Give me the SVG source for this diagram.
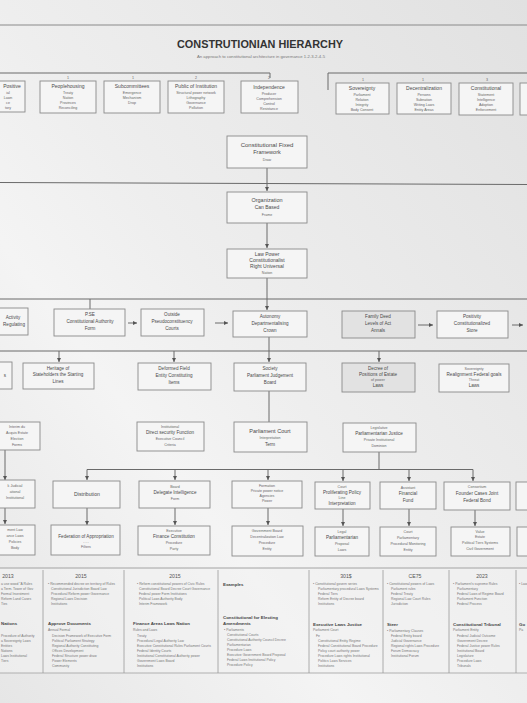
<svg xmlns="http://www.w3.org/2000/svg" width="527" height="703" viewBox="0 0 527 703">
<defs>
<linearGradient id="bg" x1="0" y1="1" x2="1" y2="0">
<stop offset="0" stop-color="#e6e6e6"/>
<stop offset="0.33" stop-color="#f4f4f4"/>
<stop offset="0.5" stop-color="#eeeeee"/>
<stop offset="1" stop-color="#e1e1e1"/>
</linearGradient>
<marker id="ah" viewBox="0 0 6 6" refX="6" refY="3" markerWidth="4" markerHeight="4" orient="auto"><path d="M0,0 L6,3 L0,6 z" fill="#555"/></marker>
<style>
.box{fill:#f5f5f5;stroke:#8a8a8a;stroke-width:0.9}
.sh{fill:#e2e2e2}
.t{font-family:"Liberation Sans",Arial,sans-serif;fill:#4a4a4a;text-anchor:middle}
.h{font-size:5px}
.s{font-size:3.6px;fill:#666}
.m{font-size:4.6px}
.ln{stroke:#6a6a6a;stroke-width:1;fill:none}
.ar{stroke:#6a6a6a;stroke-width:1;fill:none;marker-end:url(#ah)}
.pl{font-family:"Liberation Sans",Arial,sans-serif;font-size:3.4px;fill:#777}
.ph{font-family:"Liberation Sans",Arial,sans-serif;font-size:5.2px;fill:#555;text-anchor:middle}
.pb{font-family:"Liberation Sans",Arial,sans-serif;font-size:4.4px;fill:#444;font-weight:bold}
.div{stroke:#9a9a9a;stroke-width:0.8}
</style>
</defs>
<rect width="527" height="703" fill="url(#bg)"/>
<line x1="0" y1="25" x2="527" y2="25" stroke="#8a8a8a" stroke-width="1"/>
<text x="260" y="48" font-family="Liberation Sans,Arial,sans-serif" font-size="10.5" font-weight="bold" fill="#333" text-anchor="middle" textLength="166" lengthAdjust="spacingAndGlyphs">CONSTRUTIONIAN HIERARCHY</text>
<text x="261" y="58" font-family="Liberation Sans,Arial,sans-serif" font-size="3.6" fill="#777" text-anchor="middle" textLength="128" lengthAdjust="spacingAndGlyphs">An approach to constitutional architecture in governance 1-2-3-2-4-5</text>

<g id="connectors">
<path class="ln" d="M0,73 H270 V78"/>
<path class="ln" d="M328,90 V73 H527"/>
<line class="ln" x1="0" y1="182.5" x2="527" y2="184.5"/>
<path class="ar" d="M267,168 V191"/>
<path class="ar" d="M267,223 V248"/>
<path class="ar" d="M267,278 V310"/>
<line class="ln" x1="0" y1="299" x2="527" y2="299"/>
<path class="ln" d="M90,299 V309"/>
<path class="ar" d="M128,323 H137"/>
<path class="ar" d="M215,323 H228"/>
<path class="ar" d="M418,325 H433"/>
<path class="ar" d="M512,325 H523"/>
<line class="ln" x1="0" y1="351" x2="527" y2="351"/>
<path class="ar" d="M59,351 V362"/>
<path class="ar" d="M174,351 V362"/>
<path class="ar" d="M269,337 V362"/>
<path class="ar" d="M379,351 V362"/>
<path class="ln" d="M269,391 V422"/>
<path class="ar" d="M5,450 V480"/>
<path class="ln" d="M379,452 V469.5 M87,469.5 H473"/>
<path class="ar" d="M87,469.5 V480"/>
<path class="ar" d="M175,469.5 V480"/>
<path class="ar" d="M268,469.5 V480"/>
<path class="ar" d="M343,469.5 V481"/>
<path class="ar" d="M409,469.5 V481"/>
<path class="ar" d="M473,469.5 V481"/>
<path class="ar" d="M5,508 V524"/>
<path class="ar" d="M87,508 V525"/>
<path class="ar" d="M175,508 V525"/>
<path class="ar" d="M268,508 V525"/>
<path class="ar" d="M343,509 V526"/>
<path class="ar" d="M409,509 V526"/>
<path class="ar" d="M475,510 V526"/>
</g>

<g class="t">
<text class="s" x="68" y="79">1</text><text class="s" x="133" y="79">1</text><text class="s" x="196" y="79">2</text><text class="s" x="269" y="79">2</text>
<text class="s" x="363" y="81">1</text><text class="s" x="423" y="81">1</text><text class="s" x="487" y="81">3</text>
</g>

<g id="top0"><rect class="box" x="-2" y="81" width="27" height="31"/><text class="t h" x="12" y="88">Positive</text><text class="t s" x="8" y="94">ial</text><text class="t s" x="8" y="99">Lawn</text><text class="t s" x="8" y="104">ce</text><text class="t s" x="8" y="109">tory</text></g>
<g id="top1"><rect class="box" x="40" y="81" width="56" height="32"/><text class="t h" x="68" y="88">Peoplehousing</text><text class="t s" x="68" y="94">Treaty</text><text class="t s" x="68" y="99">Nation</text><text class="t s" x="68" y="104">Provinces</text><text class="t s" x="68" y="109">Reconciling</text></g>
<g id="top2"><rect class="box" x="104" y="81" width="56" height="32"/><text class="t h" x="132" y="88">Subcommittees</text><text class="t s" x="132" y="94">Emergence</text><text class="t s" x="132" y="99">Mechanism</text><text class="t s" x="132" y="104">Drop</text></g>
<g id="top3"><rect class="box" x="168" y="81" width="56" height="32"/><text class="t h" x="196" y="88">Public of Institution</text><text class="t s" x="196" y="94">Structural power network</text><text class="t s" x="196" y="99">Lithography</text><text class="t s" x="196" y="104">Governance</text><text class="t s" x="196" y="109">Pollution</text></g>
<g id="top4"><rect class="box" x="241" y="81" width="57" height="32"/><text class="t h" x="269" y="89">Independence</text><text class="t s" x="269" y="95">Producer</text><text class="t s" x="269" y="100">Comprehension</text><text class="t s" x="269" y="105">Control</text><text class="t s" x="269" y="110">Resistance</text></g>
<g id="top5"><rect class="box" x="336" y="83" width="53" height="31"/><text class="t h" x="362" y="90">Sovereignty</text><text class="t s" x="362" y="96">Parliament</text><text class="t s" x="362" y="101">Relation</text><text class="t s" x="362" y="106">Integrity</text><text class="t s" x="362" y="111">Body Consent</text></g>
<g id="top6"><rect class="box" x="397" y="83" width="54" height="31"/><text class="t h" x="424" y="90">Decentralization</text><text class="t s" x="424" y="96">Persons</text><text class="t s" x="424" y="101">Subnation</text><text class="t s" x="424" y="106">Writing Laws</text><text class="t s" x="424" y="111">Entity Areas</text></g>
<g id="top7"><rect class="box" x="459" y="83" width="54" height="32"/><text class="t h" x="486" y="90">Constitutional</text><text class="t s" x="486" y="96">Statement</text><text class="t s" x="486" y="101">Intelligence</text><text class="t s" x="486" y="106">Adoption</text><text class="t s" x="486" y="111">Enforcement</text></g>
<g id="top8"><rect class="box" x="520" y="83" width="12" height="32"/></g>

<g id="nodeA"><rect class="box" x="227" y="136" width="80" height="32"/><text class="t" font-size="6" x="267" y="147">Constitutional Fixed</text><text class="t" font-size="5.5" x="267" y="154">Framework</text><text class="t s" x="267" y="161">Draw</text></g>
<g id="nodeB"><rect class="box" x="227" y="192" width="80" height="31"/><text class="t" font-size="5.5" x="267" y="202">Organization</text><text class="t h" x="267" y="209">Can Based</text><text class="t s" x="267" y="216">Frame</text></g>
<g id="nodeC"><rect class="box" x="227" y="249" width="80" height="29"/><text class="t h" x="267" y="256">Law Power</text><text class="t h" x="267" y="262">Constitutionalist</text><text class="t h" x="267" y="268">Right Universal</text><text class="t s" x="267" y="274">Nation</text></g>

<g id="r4a"><rect class="box" x="-2" y="308" width="30" height="27"/><text class="t m" x="13" y="319">Activity</text><text class="t m" x="14" y="326">Regulating</text></g>
<g id="r4b"><rect class="box" x="54" y="309" width="71" height="27"/><text class="t m" x="90" y="316">P.SE</text><text class="t m" x="90" y="323">Constitutional Authority</text><text class="t m" x="90" y="330">Form</text></g>
<g id="r4c"><rect class="box" x="141" y="309" width="63" height="27"/><text class="t m" x="172" y="316">Outside</text><text class="t m" x="172" y="323">Pseudoconstituency</text><text class="t m" x="172" y="330">Courts</text></g>
<g id="r4d"><rect class="box" x="233" y="311" width="74" height="26"/><text class="t m" x="270" y="318">Autonomy</text><text class="t m" x="270" y="325">Departmentalising</text><text class="t m" x="270" y="332">Crown</text></g>
<g id="r4e"><rect class="box sh" x="342" y="311" width="73" height="27"/><text class="t m" x="378" y="318">Family Deed</text><text class="t m" x="378" y="325">Levels of Act</text><text class="t m" x="378" y="332">Annals</text></g>
<g id="r4f"><rect class="box" x="437" y="311" width="71" height="27"/><text class="t m" x="472" y="318">Positivity</text><text class="t m" x="472" y="325">Constitutionalized</text><text class="t m" x="472" y="332">Store</text></g>

<g id="r5a"><rect class="box" x="-2" y="362" width="14" height="27"/><text class="t m" x="5" y="377">s</text></g>
<g id="r5b"><rect class="box" x="23" y="363" width="71" height="26"/><text class="t m" x="58" y="370">Heritage of</text><text class="t m" x="58" y="376">Stateholders the Starting</text><text class="t m" x="58" y="383">Lines</text></g>
<g id="r5c"><rect class="box" x="138" y="363" width="73" height="27"/><text class="t m" x="174" y="370">Deformed Field</text><text class="t m" x="174" y="377">Entity Constituting</text><text class="t m" x="174" y="384">Items</text></g>
<g id="r5d"><rect class="box" x="234" y="363" width="72" height="28"/><text class="t m" x="270" y="370">Society</text><text class="t m" x="270" y="377">Parliament Judgement</text><text class="t m" x="270" y="384">Board</text></g>
<g id="r5e"><rect class="box sh" x="342" y="363" width="73" height="29"/><text class="t m" x="378" y="370">Decree of</text><text class="t m" x="378" y="376">Positions of Estate</text><text class="t s" x="378" y="381">of power</text><text class="t m" x="378" y="387">Laws</text></g>
<g id="r5f"><rect class="box" x="439" y="364" width="70" height="28"/><text class="t s" x="474" y="370">Sovereignty</text><text class="t m" x="474" y="376">Realignment Federal goals</text><text class="t s" x="474" y="381">Threat</text><text class="t m" x="474" y="387">Laws</text></g>

<g id="r6a"><rect class="box" x="-2" y="422" width="42" height="28"/><text class="t s" x="17" y="428">Interim du</text><text class="t s" x="17" y="434">Acquis Estate</text><text class="t s" x="17" y="440">Election</text><text class="t s" x="17" y="446">Forms</text></g>
<g id="r6b"><rect class="box" x="137" y="422" width="67" height="29"/><text class="t s" x="170" y="428">Institutional</text><text class="t m" x="170" y="434">Direct security Function</text><text class="t s" x="170" y="440">Executive Council</text><text class="t s" x="170" y="446">Criteria</text></g>
<g id="r6c"><rect class="box" x="234" y="422" width="73" height="30"/><text class="t" font-size="5.5" x="270" y="433">Parliament Court</text><text class="t s" x="270" y="439">Interpretation</text><text class="t m" x="270" y="446">Term</text></g>
<g id="r6d"><rect class="box" x="343" y="423" width="73" height="29"/><text class="t s" x="379" y="429">Legislative</text><text class="t m" x="379" y="435">Parliamentarian Justice</text><text class="t s" x="379" y="441">Private Institutional</text><text class="t s" x="379" y="447">Dominion</text></g>

<g id="r7a"><rect class="box" x="-2" y="480" width="37" height="28"/><text class="t s" x="15" y="487">k Judicial</text><text class="t s" x="15" y="493">ational</text><text class="t s" x="15" y="499">Institutional</text></g>
<g id="r7b"><rect class="box" x="53" y="481" width="67" height="27"/><text class="t" font-size="5.2" x="87" y="496">Distribution</text></g>
<g id="r7c"><rect class="box" x="139" y="481" width="71" height="27"/><text class="t s" x="175" y="488">Board</text><text class="t m" x="175" y="494">Delegate Intelligence</text><text class="t s" x="175" y="500">Form</text></g>
<g id="r7d"><rect class="box" x="232" y="481" width="70" height="27"/><text class="t s" x="267" y="487">Formation</text><text class="t s" x="267" y="492">Private power notice</text><text class="t s" x="267" y="497">Agencies</text><text class="t s" x="267" y="502">Power</text></g>
<g id="r7e"><rect class="box" x="315" y="482" width="55" height="27"/><text class="t s" x="342" y="488">Court</text><text class="t m" x="342" y="494">Proliferating Policy</text><text class="t s" x="342" y="499">Line</text><text class="t m" x="342" y="505">Interpretation</text></g>
<g id="r7f"><rect class="box" x="380" y="482" width="56" height="27"/><text class="t s" x="408" y="489">Assistant</text><text class="t m" x="408" y="495">Financial</text><text class="t m" x="408" y="502">Fund</text></g>
<g id="r7g"><rect class="box" x="444" y="482" width="66" height="28"/><text class="t s" x="477" y="488">Consortium</text><text class="t m" x="477" y="495">Founder Cases Joint</text><text class="t m" x="477" y="502">Federal Bond</text></g>
<g id="r7h"><rect class="box" x="516" y="482" width="14" height="28"/></g>

<g id="r8a"><rect class="box" x="-2" y="525" width="37" height="30"/><text class="t s" x="15" y="531">ment Law</text><text class="t s" x="15" y="537">ance Laws</text><text class="t s" x="15" y="543">Policies</text><text class="t s" x="15" y="549">Body</text></g>
<g id="r8b"><rect class="box" x="51" y="525" width="69" height="30"/><text class="t m" x="86" y="538">Federation of Appropriation</text><text class="t s" x="86" y="543">- - -</text><text class="t s" x="86" y="548">Filters</text></g>
<g id="r8c"><rect class="box" x="138" y="526" width="72" height="29"/><text class="t s" x="174" y="532">Executive</text><text class="t m" x="174" y="538">Finance Constitution</text><text class="t s" x="174" y="544">Procedure</text><text class="t s" x="174" y="550">Party</text></g>
<g id="r8d"><rect class="box" x="232" y="526" width="71" height="30"/><text class="t s" x="267" y="532">Government Board</text><text class="t s" x="267" y="538">Decentralization Law</text><text class="t s" x="267" y="544">Procedure</text><text class="t s" x="267" y="550">Entity</text></g>
<g id="r8e"><rect class="box" x="315" y="527" width="54" height="29"/><text class="t s" x="342" y="533">Legal</text><text class="t m" x="342" y="539">Parliamentarian</text><text class="t s" x="342" y="545">Proposal</text><text class="t s" x="342" y="551">Laws</text></g>
<g id="r8f"><rect class="box" x="380" y="527" width="56" height="29"/><text class="t s" x="408" y="533">Court</text><text class="t s" x="408" y="539">Parliamentary</text><text class="t s" x="408" y="545">Procedural Monitoring</text><text class="t s" x="408" y="551">Entity</text></g>
<g id="r8g"><rect class="box" x="451" y="527" width="59" height="29"/><text class="t s" x="480" y="533">Value</text><text class="t s" x="480" y="538">Estate</text><text class="t s" x="480" y="544">Political Tiers Systems</text><text class="t s" x="480" y="550">Civil Government</text></g>
<g id="r8h"><rect class="box" x="517" y="527" width="14" height="29"/></g>

<g id="panel">
<rect x="0" y="568" width="527" height="105" fill="#f2f2f2" opacity="0.6"/>
<line x1="0" y1="568" x2="527" y2="568" stroke="#9a9a9a" stroke-width="0.9"/>
<line x1="0" y1="673" x2="527" y2="673" stroke="#a8a8a8" stroke-width="0.9"/>
<line class="div" x1="43" y1="570" x2="43" y2="673"/>
<line class="div" x1="124" y1="570" x2="124" y2="673"/>
<line class="div" x1="218" y1="570" x2="218" y2="673"/>
<line class="div" x1="309" y1="570" x2="309" y2="673"/>
<line class="div" x1="383" y1="570" x2="383" y2="673"/>
<line class="div" x1="449" y1="570" x2="449" y2="673"/>
<line class="div" x1="516" y1="570" x2="516" y2="673"/>

<text class="ph" x="8" y="578">2013</text>
<text class="pl" x="1" y="585">a use wood "A Rules</text><text class="pl" x="1" y="590">a Term. Tower of Gov</text><text class="pl" x="1" y="595">Formal Investment</text><text class="pl" x="1" y="600">Reform Land Cases</text><text class="pl" x="1" y="605">Ties</text>
<text class="pb" x="1" y="625">Nations</text>
<text class="pl" x="1" y="637">Procedure of Authority</text><text class="pl" x="1" y="642">a Sovereignty Laws</text><text class="pl" x="1" y="647">Entities</text><text class="pl" x="1" y="652">Nations</text><text class="pl" x="1" y="657">Laws Institutional</text><text class="pl" x="1" y="662">Tiers</text>

<text class="ph" x="81" y="578">2015</text>
<text class="pl" x="48" y="585">• Recommended decree on territory of Rules</text><text class="pl" x="51" y="590">Constitutional Jurisdiction Board Law</text><text class="pl" x="51" y="595">Procedural Reform power Governance</text><text class="pl" x="51" y="600">Regional Laws Decision</text><text class="pl" x="51" y="605">Institutions</text>
<text class="pb" x="48" y="625">Approve Documents</text>
<text class="pl" x="48" y="631">Annual Formal</text>
<text class="pl" x="52" y="637">Decision Framework of Executive Form</text><text class="pl" x="52" y="642">Political Parliament Strategy</text><text class="pl" x="52" y="647">Regional Authority Constituting</text><text class="pl" x="52" y="652">Offices Development</text><text class="pl" x="52" y="657">Federal Structure power draw</text><text class="pl" x="52" y="662">Power Elements</text><text class="pl" x="52" y="667">Community</text>

<text class="ph" x="175" y="578">2015</text>
<text class="pl" x="137" y="585">• Reform constitutional powers of Civic Rules</text><text class="pl" x="139" y="590">Constitutional Board Decree Court Governance</text><text class="pl" x="139" y="595">Federal power Form Institutions</text><text class="pl" x="139" y="600">Political Laws Authority Body</text><text class="pl" x="139" y="605">Interim Framework</text>
<text class="pb" x="133" y="625">Finance Areas Laws Nation</text>
<text class="pl" x="133" y="631">Rules and Laws</text>
<text class="pl" x="137" y="637">Treaty</text><text class="pl" x="137" y="642">Procedural Legal Authority Law</text><text class="pl" x="137" y="647">Executive Constitutional Rules Parliament Courts</text><text class="pl" x="137" y="652">Federal Identity Courts</text><text class="pl" x="137" y="657">Institutional Constitutional Authority power</text><text class="pl" x="137" y="662">Government Laws Board</text><text class="pl" x="137" y="667">Institutions</text>

<text class="pb" x="223" y="586" font-size="5">Examples</text>
<text class="pb" x="223" y="619">Constitutional for Electing</text>
<text class="pb" x="223" y="625">Amendments</text>
<text class="pl" x="224" y="631">• Parliaments</text><text class="pl" x="227" y="636">Constitutional Courts</text><text class="pl" x="227" y="641">Constitutional Authority Council Decree</text><text class="pl" x="227" y="646">Parliamentarian</text><text class="pl" x="227" y="651">Procedure Laws</text><text class="pl" x="227" y="656">Executive Government Board Proposal</text><text class="pl" x="227" y="661">Federal Laws Institutional Policy</text><text class="pl" x="227" y="666">Procedure Policy</text>

<text class="ph" x="346" y="578">301$</text>
<text class="pl" x="313" y="585">• Constitutional govern series</text><text class="pl" x="318" y="590">Parliamentary procedural Laws Systems</text><text class="pl" x="318" y="595">Federal Tiers</text><text class="pl" x="318" y="600">Reform Entity of Decree board</text><text class="pl" x="318" y="605">Institutions</text>
<text class="pb" x="313" y="626">Executive Laws Justice</text>
<text class="pl" x="313" y="631">Parliament Court</text>
<text class="pl" x="316" y="637">Fe</text><text class="pl" x="318" y="642">Constitutional Entity Regime</text><text class="pl" x="318" y="647">Federal Constitutional Board Procedure</text><text class="pl" x="318" y="652">Policy court authority power</text><text class="pl" x="318" y="657">Procedure Laws rights Institutional</text><text class="pl" x="318" y="662">Politics Laws Services</text><text class="pl" x="318" y="667">Institutions</text>

<text class="ph" x="415" y="578">CE75</text>
<text class="pl" x="387" y="585">• Constitutional powers of Laws</text><text class="pl" x="391" y="590">Parliament rules</text><text class="pl" x="391" y="595">Federal Treaty</text><text class="pl" x="391" y="600">Regional Law Court Rules</text><text class="pl" x="391" y="605">Jurisdiction</text>
<text class="pb" x="387" y="626">Steer</text>
<text class="pl" x="387" y="632">• Parliamentary Clauses</text><text class="pl" x="391" y="637">Federal Entity board</text><text class="pl" x="391" y="642">Judicial Governance</text><text class="pl" x="391" y="647">Regional rights Laws Procedure</text><text class="pl" x="391" y="652">Forum Democracy</text><text class="pl" x="391" y="657">Institutional Forum</text>

<text class="ph" x="482" y="578">2023</text>
<text class="pl" x="453" y="585">• Parliament's supreme Rules</text><text class="pl" x="457" y="590">Parliamentary</text><text class="pl" x="457" y="595">Federal Laws of Regime Board</text><text class="pl" x="457" y="600">Parliament Function</text><text class="pl" x="457" y="605">Federal Process</text>
<text class="pb" x="453" y="626">Constitutional Tribunal</text>
<text class="pl" x="453" y="631">Parliament Entity</text>
<text class="pl" x="457" y="637">Federal Judicial Outcome</text><text class="pl" x="457" y="642">Government Decree</text><text class="pl" x="457" y="647">Federal Justice power Rules</text><text class="pl" x="457" y="652">Institutional Board</text><text class="pl" x="457" y="657">Legislature</text><text class="pl" x="457" y="662">Procedure Laws</text><text class="pl" x="457" y="667">Tribunals</text>

<text class="pl" x="519" y="585">• Law</text>
<text class="pb" x="519" y="626">Go</text>
<text class="pl" x="519" y="631">Pa</text>
</g>
</svg>
